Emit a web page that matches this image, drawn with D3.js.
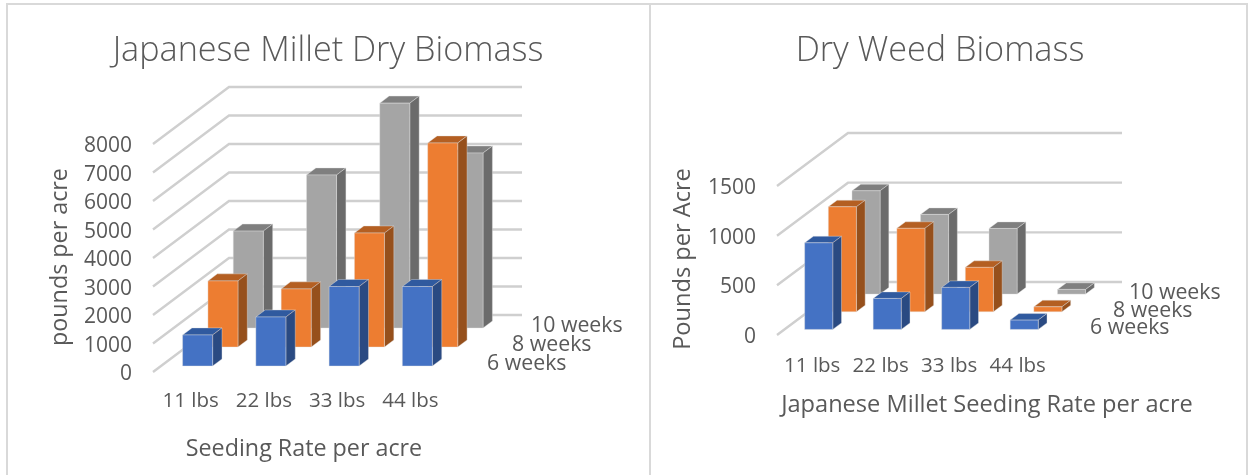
<!DOCTYPE html>
<html>
<head>
<meta charset="utf-8">
<script src="https://cdn.jsdelivr.net/npm/d3@7"></script>
<style>
  html, body { margin: 0; padding: 0; background: #fff; }
  svg { display: block; filter: blur(0.45px); }
  text { font-family: "Open Sans", sans-serif; fill: #595959; }
</style>
</head>
<body>
<svg id="chart" width="1248" height="475"></svg>
<script>
// values
const series = ["6 weeks", "8 weeks", "10 weeks"];
const categories = ["11 lbs", "22 lbs", "33 lbs", "44 lbs"];

const milletTicks = [0, 1000, 2000, 3000, 4000, 5000, 6000, 7000, 8000];
const millet6 = [1090, 1720, 2790, 2790];
const millet8 = [2320, 2040, 4000, 7160];
const millet10 = [3400, 5370, 7890, 6140];

const weedTicks = [0, 500, 1000, 1500];
const weed6 = [872, 312, 423, 94];
const weed8 = [1057, 840, 447, 50];
const weed10 = [1040, 802, 661, 47];

const colors = {
  "6 weeks": { front: "#4472c4", side: "#2a4a82", top: "#305a9f" },
  "8 weeks": { front: "#ed7d31", side: "#96501c", top: "#b45f22" },
  "10 weeks": { front: "#a5a5a5", side: "#6b6b6b", top: "#7f7f7f" }
};

let svg = d3.select("#chart");

// panel borders
let frame = svg.append("g").attr("fill", "none").attr("stroke", "#d9d9d9").attr("stroke-width", 2);
frame.append("path").attr("d", "M7,475V4H1247V475");
frame.append("path").attr("d", "M650,4V475");

function drawChart(c) {
  let g = svg.append("g");

  let scaleX = d3.scaleBand().domain(categories).range([c.x0, c.x1])
    .paddingInner(c.gap).paddingOuter(c.gap / 2);
  let scaleY = d3.scaleLinear().domain([0, c.max]).range([c.y0, c.yTop]);
  let scaleZ = d3.scaleBand().domain(series).range([0, 1])
    .paddingInner(0.63).paddingOuter(0.315);

  // project a point (px across, px up, depth 0..1) to the picture
  let pt = (x, y, z) => [x + z * c.dx, y - z * c.dy];

  // floor to back wall grid lines
  let grid = g.append("g").attr("fill", "none").attr("stroke", "#cfcfcf").attr("stroke-width", 2.4);
  c.ticks.forEach(t => {
    let y = scaleY(t);
    grid.append("path").attr("d", d3.line()([pt(c.x0, y, 0), pt(c.x0, y, 1), pt(c.x1, y, 1)]));
  });

  // back row first so the front row covers it
  let rows = series.map((s, i) => ({ name: s, values: c.values[i] })).reverse();
  rows.forEach(row => {
    let col = colors[row.name];
    row.values.forEach((v, i) => {
      let xa = scaleX(categories[i]), xb = xa + scaleX.bandwidth();
      let ya = scaleY(0), yb = scaleY(v);
      let za = scaleZ(row.name), zb = za + scaleZ.bandwidth();
      let bar = g.append("g").attr("stroke", "#e4e4e4").attr("stroke-width", 0.4).attr("stroke-linejoin", "round");
      bar.append("polygon").attr("fill", col.top)
        .attr("points", [pt(xa, yb, za), pt(xb, yb, za), pt(xb, yb, zb), pt(xa, yb, zb)].join(" "));
      bar.append("polygon").attr("fill", col.side)
        .attr("points", [pt(xb, ya, za), pt(xb, yb, za), pt(xb, yb, zb), pt(xb, ya, zb)].join(" "));
      bar.append("polygon").attr("fill", col.front)
        .attr("points", [pt(xa, ya, za), pt(xb, ya, za), pt(xb, yb, za), pt(xa, yb, za)].join(" "));
    });
  });

  // value axis, drawn with the same scale as the bars
  let axisY = g.append("g").attr("transform", `translate(${c.tickX},0)`)
    .call(d3.axisLeft(scaleY).tickValues(c.ticks).tickFormat(d3.format("d")).tickSize(0).tickPadding(0));
  axisY.select(".domain").remove();
  axisY.selectAll("text").attr("font-size", c.tickSize).attr("dy", "0.36em").style("font-family", null);

  // category labels
  g.selectAll(".cat").data(categories).enter().append("text")
    .attr("x", d => scaleX(d) + scaleX.bandwidth() / 2 + c.catShift)
    .attr("y", c.catY)
    .attr("text-anchor", "middle")
    .attr("font-size", c.catSize)
    .text(d => d);

  // depth labels
  g.selectAll(".depth").data(series).enter().append("text")
    .attr("x", (d, i) => c.depthX[i])
    .attr("y", (d, i) => c.depthY[i])
    .attr("font-size", c.depthSize)
    .text(d => d);

  g.append("text").attr("x", c.titleX).attr("y", c.titleY).attr("text-anchor", "middle")
    .attr("font-size", c.titleSize).attr("font-weight", 300).text(c.title);
  g.append("text").attr("x", c.xLabelX).attr("y", c.xLabelY).attr("text-anchor", "middle")
    .attr("font-size", c.labelSize).text(c.xLabel);
  g.append("text").attr("transform", `translate(${c.yLabelX},${c.yLabelY}) rotate(-90)`)
    .attr("text-anchor", "middle").attr("font-size", c.labelSize).text(c.yLabel);
}

drawChart({
  title: "Japanese Millet Dry Biomass", xLabel: "Seeding Rate per acre", yLabel: "pounds per acre",
  values: [millet6, millet8, millet10], ticks: milletTicks, max: 8000,
  x0: 153, x1: 446, y0: 372, yTop: 144, dx: 76, dy: 57, gap: 0.59,
  tickX: 132, tickSize: 21, catY: 407, catSize: 20.5, catShift: 1,
  depthX: [487, 512, 531], depthY: [370, 351, 332], depthSize: 21.3,
  titleX: 328, titleY: 61, titleSize: 34.2,
  xLabelX: 304, xLabelY: 456, labelSize: 23.3, yLabelX: 67, yLabelY: 257
});

drawChart({
  title: "Dry Weed Biomass", xLabel: "Japanese Millet Seeding Rate per acre", yLabel: "Pounds per Acre",
  values: [weed6, weed8, weed10], ticks: weedTicks, max: 1500,
  x0: 777, x1: 1051, y0: 335, yTop: 186, dx: 71, dy: 53, gap: 0.59,
  tickX: 756, tickSize: 21, catY: 372, catSize: 20.5, catShift: 1,
  depthX: [1090, 1113, 1129], depthY: [334, 317, 299], depthSize: 21.3,
  titleX: 940, titleY: 61, titleSize: 34.2,
  xLabelX: 987, xLabelY: 412, labelSize: 23.6, yLabelX: 690, yLabelY: 259
});
</script>
</body>
</html>
